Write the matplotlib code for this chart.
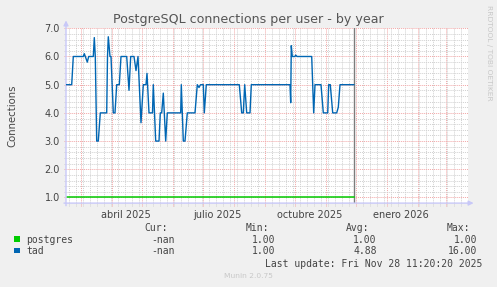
import datetime as dt
import matplotlib.pyplot as plt
from matplotlib.patches import Rectangle

# days since 2025-01-01
days = [44.4, 49.4, 51.0, 61.0, 62.0, 65.0, 66.4, 71.0, 72.0, 73.0,
        74.4, 76.0, 78.0, 84.4, 85.2, 86.0, 87.7, 88.7, 91.0, 92.7,
        94.4, 97.0, 98.7, 104.4, 106.7, 108.4, 111.7, 113.7, 115.7, 118.7,
        121.0, 123.7, 124.7, 126.7, 130.2, 131.0, 133.4, 136.7, 138.0, 139.4,
        141.0, 143.4, 145.0, 158.4, 159.0, 161.0, 162.7, 165.0, 172.7, 175.0,
        176.7, 178.2, 181.0, 182.0, 184.0, 217.0, 219.4, 221.0, 222.4, 224.4,
        227.7, 229.0, 267.7, 268.4, 269.0, 270.0, 272.7, 273.4, 274.7, 289.4,
        291.4, 292.7, 298.7, 301.0, 305.4, 306.4, 308.0, 310.4, 314.4, 316.0,
        317.7, 331.5]
tad = [5.0, 5.0, 6.0, 6.0, 6.1, 5.8, 6.0, 6.0, 6.67, 6.0,
       3.0, 3.0, 4.0, 4.0, 6.0, 6.7, 6.0, 6.0, 4.0, 4.0,
       5.0, 5.0, 6.0, 6.0, 4.8, 6.0, 6.0, 5.5, 6.0, 3.65,
       5.0, 5.0, 5.4, 4.0, 4.0, 5.0, 3.0, 3.0, 4.0, 4.0,
       4.7, 3.0, 4.0, 4.0, 5.0, 3.0, 3.0, 4.0, 4.0, 5.0,
       4.9, 5.0, 5.0, 4.0, 5.0, 5.0, 4.0, 4.0, 5.0, 4.0,
       4.0, 5.0, 5.0, 4.36, 6.38, 6.0, 6.0, 6.05, 6.0, 6.0,
       4.0, 5.0, 5.0, 4.0, 4.0, 5.0, 5.0, 4.0, 4.0, 4.2,
       5.0, 5.0]
postgres_days = [44.4, 331.5]
postgres = [1.0, 1.0]
now_day = 331.5

series = ['postgres', 'tad']
colors = ['#00cc00', '#0066b3']
cur = ['-nan', '-nan']
mins = ['1.00', '1.00']
avgs = ['1.00', '4.88']
maxs = ['1.00', '16.00']

month_labels = [((2025, 4), 'abril 2025'), ((2025, 7), 'julio 2025'),
                ((2025, 10), 'octubre 2025'), ((2026, 1), 'enero 2026')]

start = dt.date(2025, 1, 1)


def day(y, m, d):
    return (dt.date(y, m, d) - start).days


W, H = 497, 287
fig = plt.figure(figsize=(W / 100, H / 100), dpi=100, facecolor='#f0f0f0')
ax = fig.add_axes([66 / W, 1 - 203.1 / H, 402 / W, 174.8 / H])
ax.set_facecolor('white')
for s in ax.spines.values():
    s.set_visible(False)
x0, x1 = 43.7, 445.7
y0, y1 = 0.8, 7.0
ax.set_xlim(x0, x1)
ax.set_ylim(y0, y1)

dots = [(0, (1, 1))]
grey = '#d0d0d0'
pink = '#f2a6a6'

# vertical grid: weekly (mondays) and monthly
mondays = [d for d in range(5, int(x1), 7) if d > x0]
months = []
y, m = 2025, 3
while day(y, m, 1) < x1:
    months.append(day(y, m, 1))
    m += 1
    if m > 12:
        y, m = y + 1, 1
ax.vlines([d for d in mondays if d not in months], y0 - 0.09, y1,
          colors=grey, linestyles=dots, lw=0.7, clip_on=False, zorder=1)
ax.vlines(months, y0 - 0.09, y1, colors=pink, linestyles=dots, lw=0.7,
          clip_on=False, zorder=1)

# horizontal grid
minor_y = [round(y0 + 0.2 * k, 1) for k in range(1, 31)]
minor_y = [v for v in minor_y if abs(v - round(v)) > 1e-6]
ax.hlines(minor_y, x0 - 2.5, x1, colors=grey, linestyles=dots, lw=0.7,
          clip_on=False, zorder=1)
ax.hlines(range(1, 8), x0 - 2.5, x1, colors=pink, linestyles=dots, lw=0.7,
          clip_on=False, zorder=1)

ax.axvline(now_day, color='#7c7c7c', lw=1.0, zorder=2)

ax.plot(postgres_days, postgres, color=colors[0], lw=1.1, zorder=3)
ax.plot(days, tad, color=colors[1], lw=1.0, zorder=4)

# axes with arrows
axis_c = '#c8c8f8'
ax.annotate('', xy=(0, 1.045), xytext=(0, -0.015), xycoords='axes fraction',
            arrowprops=dict(arrowstyle='-|>', color=axis_c, lw=1,
                            mutation_scale=7, shrinkA=0, shrinkB=0))
ax.annotate('', xy=(1.014, 0), xytext=(-0.005, 0), xycoords='axes fraction',
            arrowprops=dict(arrowstyle='-|>', color=axis_c, lw=1,
                            mutation_scale=7, shrinkA=0, shrinkB=0))

txt = '#444444'
ax.set_yticks(range(1, 8))
ax.set_yticklabels(['%.1f' % v for v in range(1, 8)])
ax.set_xticks([day(y, m, 15) for (y, m), _ in month_labels])
ax.set_xticklabels([lab for _, lab in month_labels])
ax.tick_params(length=0, labelsize=7, labelcolor=txt)
ax.tick_params(axis='y', pad=4.3)
ax.tick_params(axis='x', pad=5)


def P(x, y):
    return x / W, 1 - y / H


fig.text(*P(248.5, 23.3), 'PostgreSQL connections per user - by year',
         ha='center', va='baseline', fontsize=9.1, color='#555555')
fig.text(*P(12, 115.5), 'Connections', rotation=90, ha='center',
         va='center', fontsize=7.3, color=txt)
fig.text(*P(488.5, 53), 'RRDTOOL / TOBI OETIKER', rotation=270,
         ha='center', va='center', fontsize=5.4, color='#c8c8c8')

mono = 'DejaVu Sans Mono'
fs = 7
fig.text(*P(167.5, 231), 'Cur:', ha='right', va='baseline', family=mono,
         fontsize=fs, color=txt)
fig.text(*P(269.5, 231), 'Min:', ha='right', va='baseline', family=mono,
         fontsize=fs, color=txt)
fig.text(*P(369.5, 231), 'Avg:', ha='right', va='baseline', family=mono,
         fontsize=fs, color=txt)
fig.text(*P(470.5, 231), 'Max:', ha='right', va='baseline', family=mono,
         fontsize=fs, color=txt)
for i, name in enumerate(series):
    yb = 242.8 + 11.4 * i
    fig.patches.append(Rectangle(P(14, yb - 0.8), 6 / W, 5.6 / H,
                                 transform=fig.transFigure,
                                 facecolor=colors[i], edgecolor='none'))
    fig.text(*P(26.5, yb), name, ha='left', va='baseline', family=mono,
             fontsize=fs, color=txt)
    fig.text(*P(174.5, yb), cur[i], ha='right', va='baseline', family=mono,
             fontsize=fs, color=txt)
    fig.text(*P(275.5, yb), mins[i], ha='right', va='baseline', family=mono,
             fontsize=fs, color=txt)
    fig.text(*P(376.5, yb), avgs[i], ha='right', va='baseline', family=mono,
             fontsize=fs, color=txt)
    fig.text(*P(477, yb), maxs[i], ha='right', va='baseline', family=mono,
             fontsize=fs, color=txt)
fig.text(*P(482.5, 267.2), 'Last update: Fri Nov 28 11:20:20 2025',
         ha='right', va='baseline', family=mono, fontsize=fs, color=txt)
fig.text(*P(248, 276), 'Munin 2.0.75', ha='center', va='center',
         fontsize=5.4, color='#c8c8c8')

fig.savefig('out.png', dpi=100, facecolor=fig.get_facecolor())
